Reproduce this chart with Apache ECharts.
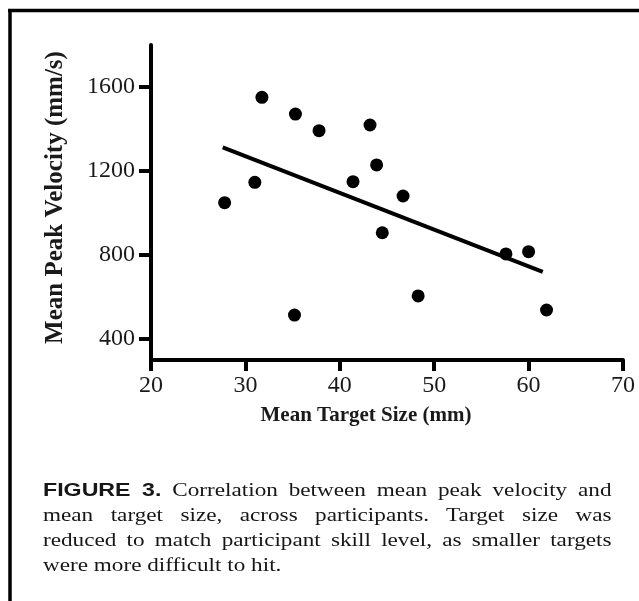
<!DOCTYPE html>
<html>
<head>
<meta charset="utf-8">
<script src="https://cdn.jsdelivr.net/npm/echarts@6/dist/echarts.min.js"></script>
<style>
html, body { margin: 0; padding: 0; background: #fff; }
#wrap { position: relative; width: 639px; height: 601px; overflow: hidden; }
#chart { position: absolute; left: 0; top: 0; width: 639px; height: 601px; }
#caption { position: absolute; left: 43px; top: 477px; width: 466px; transform: scaleX(1.22); transform-origin: 0 0;
  font-family: "Liberation Serif", serif; font-size: 19px; line-height: 25px; color: #161616; }
#caption .ln { text-align: justify; text-align-last: justify; }
#caption .last { text-align: left; text-align-last: left; }
#caption b { font-family: "Liberation Sans", Arial, sans-serif; font-weight: bold; }
</style>
</head>
<body>
<div id="wrap">
  <div id="chart"></div>
  <div id="caption">
    <div class="ln"><b>FIGURE 3.</b> Correlation between mean peak velocity and</div>
    <div class="ln">mean target size, across participants. Target size was</div>
    <div class="ln">reduced to match participant skill level, as smaller targets</div>
    <div class="ln last">were more difficult to hit.</div>
  </div>
</div>
<script>
// ---- data ----
const targetSize = [27.8, 31.0, 31.75, 35.3, 37.8, 35.2, 41.4, 43.2, 43.9, 44.5, 46.7, 48.3, 57.6, 60.0, 61.9];
const peakVelocity = [1049, 1146, 1551, 1471, 1392, 514, 1149, 1419, 1229, 906, 1081, 605, 805, 816, 538];
const fitX = [27.6, 61.5];
const fitY = [1313, 720];
const xTicks = [20, 30, 40, 50, 60, 70];
const yTicks = [400, 800, 1200, 1600];
const xTitle = 'Mean Target Size (mm)';
const yTitle = 'Mean Peak Velocity (mm/s)';

const scatterData = targetSize.map((x, i) => [x, peakVelocity[i]]);
const fitData = fitX.map((x, i) => [x, fitY[i]]);

const chart = echarts.init(document.getElementById('chart'), null, { renderer: 'canvas' });
const serif = '"Liberation Serif", "Times New Roman", serif';
const ink = '#000';

chart.setOption({
  animation: false,
  backgroundColor: '#fff',
  grid: { left: 151, right: 16, top: 45, bottom: 241, outerBoundsMode: 'none' },
  xAxis: {
    type: 'value', min: xTicks[0], max: xTicks[xTicks.length - 1], interval: 10,
    axisLine: { show: true, onZero: false, lineStyle: { color: ink, width: 4 } },
    axisTick: { show: true, length: 11, lineStyle: { color: ink, width: 4 } },
    axisLabel: { fontFamily: serif, fontSize: 24, color: '#1a1a1a', margin: 14, formatter: v => String(v) },
    splitLine: { show: false }
  },
  yAxis: {
    type: 'value', min: 300, max: 1800,
    axisLine: { show: true, onZero: false, lineStyle: { color: ink, width: 4 } },
    axisTick: { show: true, length: 12, customValues: yTicks, lineStyle: { color: ink, width: 4 } },
    axisLabel: { fontFamily: serif, fontSize: 24, color: '#1a1a1a', margin: 16, customValues: yTicks,
      formatter: v => String(v) },
    splitLine: { show: false }
  },
  graphic: [
    { type: 'line', shape: { x1: 8, y1: 10.5, x2: 639, y2: 10.5 }, style: { stroke: ink, lineWidth: 3.5 } },
    { type: 'line', shape: { x1: 10, y1: 9, x2: 10, y2: 601 }, style: { stroke: ink, lineWidth: 3.5 } },
    { type: 'text', x: 366, y: 416, style: { text: xTitle, fontFamily: serif, fontWeight: 'bold', fontSize: 21,
      fill: '#1a1a1a', align: 'center', verticalAlign: 'middle' } },
    { type: 'text', x: 56, y: 197.5, rotation: Math.PI / 2, style: { text: yTitle, fontFamily: serif, fontWeight: 'bold',
      fontSize: 25, fill: '#1a1a1a', align: 'center', verticalAlign: 'middle' } }
  ],
  series: [
    { type: 'line', data: fitData, symbol: 'none', lineStyle: { color: ink, width: 4 }, z: 2 },
    { type: 'scatter', data: scatterData, symbol: 'circle', symbolSize: 13, itemStyle: { color: ink, opacity: 1 }, z: 3 }
  ]
});
</script>
</body>
</html>
